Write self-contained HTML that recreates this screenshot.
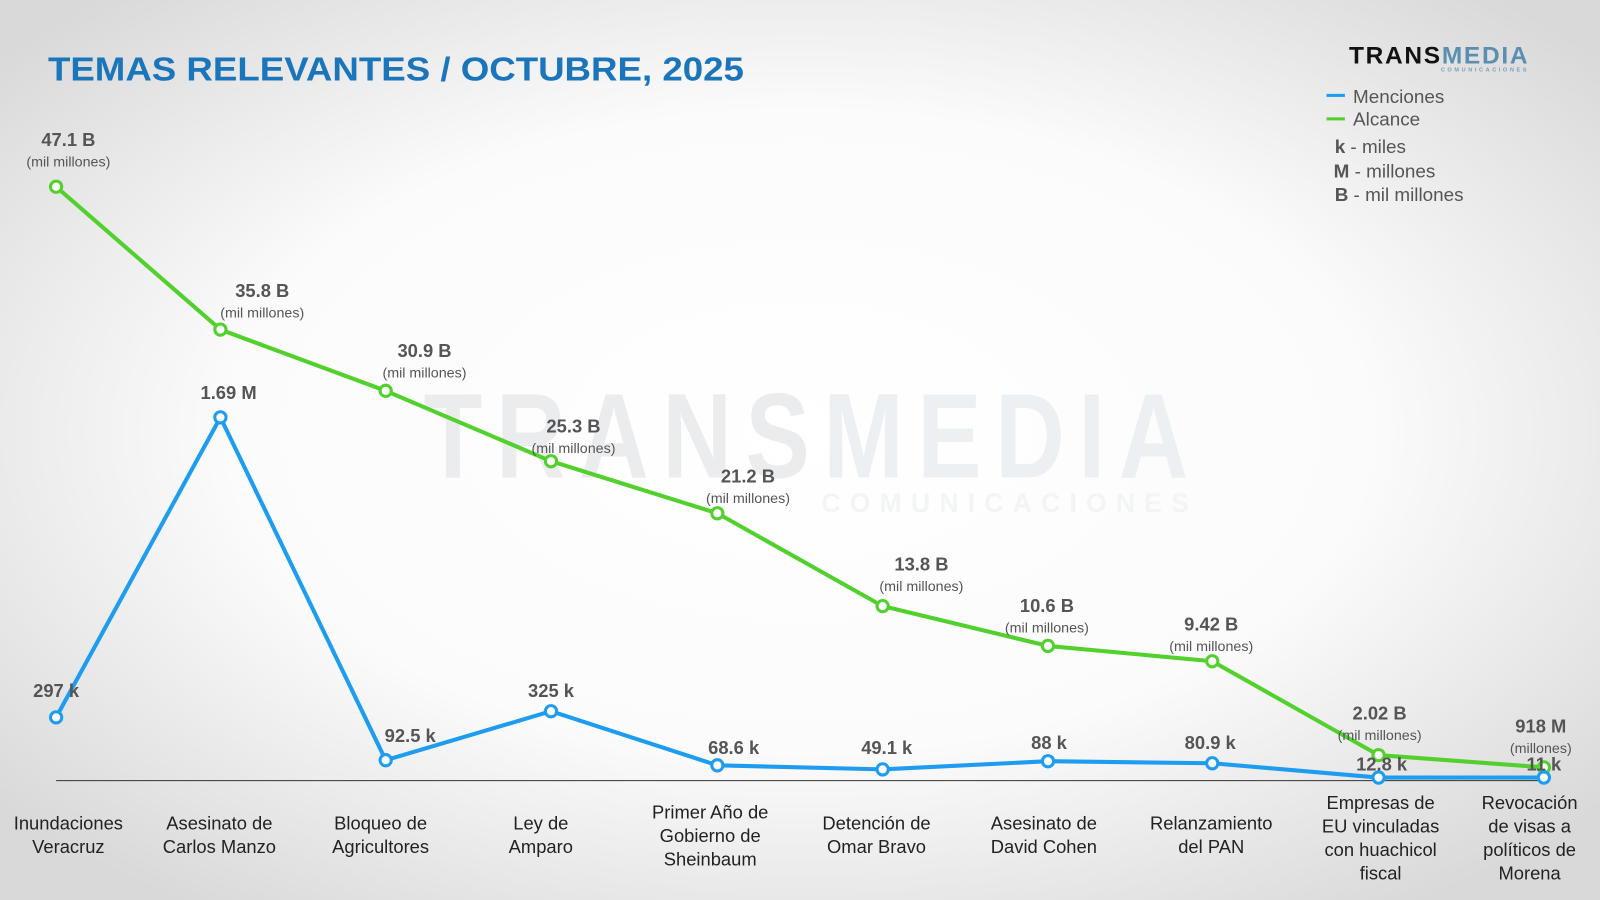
<!DOCTYPE html>
<html><head><meta charset="utf-8"><style>
body{margin:0;width:1600px;height:900px;overflow:hidden;font-family:"Liberation Sans",sans-serif;}
svg{display:block}
</style></head><body>
<svg width="1600" height="900" viewBox="0 0 1568 882" preserveAspectRatio="none" xmlns="http://www.w3.org/2000/svg" font-family="Liberation Sans, sans-serif">
<defs><radialGradient id="bg" cx="50%" cy="48%" r="65%"><stop offset="0" stop-color="#ffffff"/><stop offset="0.55" stop-color="#fbfbfb"/><stop offset="1" stop-color="#d9d9d9"/></radialGradient></defs>
<rect width="1568" height="882" fill="url(#bg)"/>
<g transform="translate(415,468) scale(0.8,1)">
<text x="0" y="0" font-size="118" font-weight="bold" fill="#ebecee" textLength="937" lengthAdjust="spacing">TRANS<tspan fill="#ecf0f3">MEDIA</tspan></text>
</g>
<text x="805" y="502" font-size="26" font-weight="bold" fill="#f2f4f6" textLength="360" lengthAdjust="spacing">COMUNICACIONES</text>
<text x="47" y="79" font-size="33" font-weight="bold" fill="#1a75bb" textLength="682" lengthAdjust="spacingAndGlyphs">TEMAS RELEVANTES / OCTUBRE, 2025</text>
<text x="1322" y="62" font-size="24" font-weight="bold" fill="#111" textLength="175" lengthAdjust="spacing">TRANS<tspan fill="#5a8fb0">MEDIA</tspan></text>
<text x="1412" y="70" font-size="5.5" font-weight="bold" fill="#7aa0b8" textLength="84" lengthAdjust="spacing">COMUNICACIONES</text>
<g font-size="18.5" fill="#555">
<rect x="1300" y="92" width="18" height="3" fill="#1e9cf0"/><text x="1326" y="101">Menciones</text>
<rect x="1300" y="115" width="18" height="3" fill="#52d12e"/><text x="1326" y="123">Alcance</text>
<text x="1308" y="150"><tspan font-weight="bold">k</tspan>  - miles</text>
<text x="1307" y="174"><tspan font-weight="bold">M</tspan> - millones</text>
<text x="1308" y="197"><tspan font-weight="bold">B</tspan>  - mil millones</text>
</g>
<line x1="55" y1="765" x2="1513" y2="765" stroke="#333" stroke-width="1"/>
<polyline fill="none" stroke="#52d12e" stroke-width="4" stroke-linejoin="round" points="55,183 216,323 378,383 540,452 703,503 865,594 1027,633 1188,648 1351,740 1513,752"/>
<polyline fill="none" stroke="#1e9cf0" stroke-width="4" stroke-linejoin="round" points="55,703 216,409 378,745 540,697 703,750 865,754 1027,746 1188,748 1351,762 1513,762"/>
<g fill="#fff" stroke="#52d12e" stroke-width="3">
<circle cx="55" cy="183" r="5.5"/><circle cx="216" cy="323" r="5.5"/><circle cx="378" cy="383" r="5.5"/><circle cx="540" cy="452" r="5.5"/><circle cx="703" cy="503" r="5.5"/><circle cx="865" cy="594" r="5.5"/><circle cx="1027" cy="633" r="5.5"/><circle cx="1188" cy="648" r="5.5"/><circle cx="1351" cy="740" r="5.5"/><circle cx="1513" cy="752" r="5.5"/>
</g>
<g fill="#fff" stroke="#1e9cf0" stroke-width="3">
<circle cx="55" cy="703" r="5.5"/><circle cx="216" cy="409" r="5.5"/><circle cx="378" cy="745" r="5.5"/><circle cx="540" cy="697" r="5.5"/><circle cx="703" cy="750" r="5.5"/><circle cx="865" cy="754" r="5.5"/><circle cx="1027" cy="746" r="5.5"/><circle cx="1188" cy="748" r="5.5"/><circle cx="1351" cy="762" r="5.5"/><circle cx="1513" cy="762" r="5.5"/>
</g>
<g text-anchor="middle" fill="#555">
<g font-size="18" font-weight="bold">
<text x="67" y="143">47.1 B</text><text x="257" y="291">35.8 B</text><text x="416" y="350">30.9 B</text><text x="562" y="424">25.3 B</text><text x="733" y="473">21.2 B</text><text x="903" y="559">13.8 B</text><text x="1026" y="600">10.6 B</text><text x="1187" y="618">9.42 B</text><text x="1352" y="705">2.02 B</text><text x="1510" y="718">918 M</text>
<text x="55" y="683">297 k</text><text x="224" y="391">1.69 M</text><text x="402" y="727">92.5 k</text><text x="540" y="683">325 k</text><text x="719" y="739">68.6 k</text><text x="869" y="739">49.1 k</text><text x="1028" y="734">88 k</text><text x="1186" y="734">80.9 k</text><text x="1354" y="755">12.8 k</text><text x="1513" y="755">11 k</text>
</g>
<g font-size="14">
<text x="67" y="163">(mil millones)</text><text x="257" y="311">(mil millones)</text><text x="416" y="370">(mil millones)</text><text x="562" y="444">(mil millones)</text><text x="733" y="493">(mil millones)</text><text x="903" y="579">(mil millones)</text><text x="1026" y="620">(mil millones)</text><text x="1187" y="638">(mil millones)</text><text x="1352" y="725">(mil millones)</text><text x="1510" y="738">(millones)</text>
</g>
<g font-size="18" fill="#222">
<text x="67" y="813">Inundaciones</text><text x="67" y="836">Veracruz</text>
<text x="215" y="813">Asesinato de</text><text x="215" y="836">Carlos Manzo</text>
<text x="373" y="813">Bloqueo de</text><text x="373" y="836">Agricultores</text>
<text x="530" y="813">Ley de</text><text x="530" y="836">Amparo</text>
<text x="696" y="802">Primer Año de</text><text x="696" y="825">Gobierno de</text><text x="696" y="848">Sheinbaum</text>
<text x="859" y="813">Detención de</text><text x="859" y="836">Omar Bravo</text>
<text x="1023" y="813">Asesinato de</text><text x="1023" y="836">David Cohen</text>
<text x="1187" y="813">Relanzamiento</text><text x="1187" y="836">del PAN</text>
<text x="1353" y="793">Empresas de</text><text x="1353" y="816">EU vinculadas</text><text x="1353" y="839">con huachicol</text><text x="1353" y="862">fiscal</text>
<text x="1499" y="793">Revocación</text><text x="1499" y="816">de visas a</text><text x="1499" y="839">políticos de</text><text x="1499" y="862">Morena</text>
</g>
</g>
</svg>
</body></html>
